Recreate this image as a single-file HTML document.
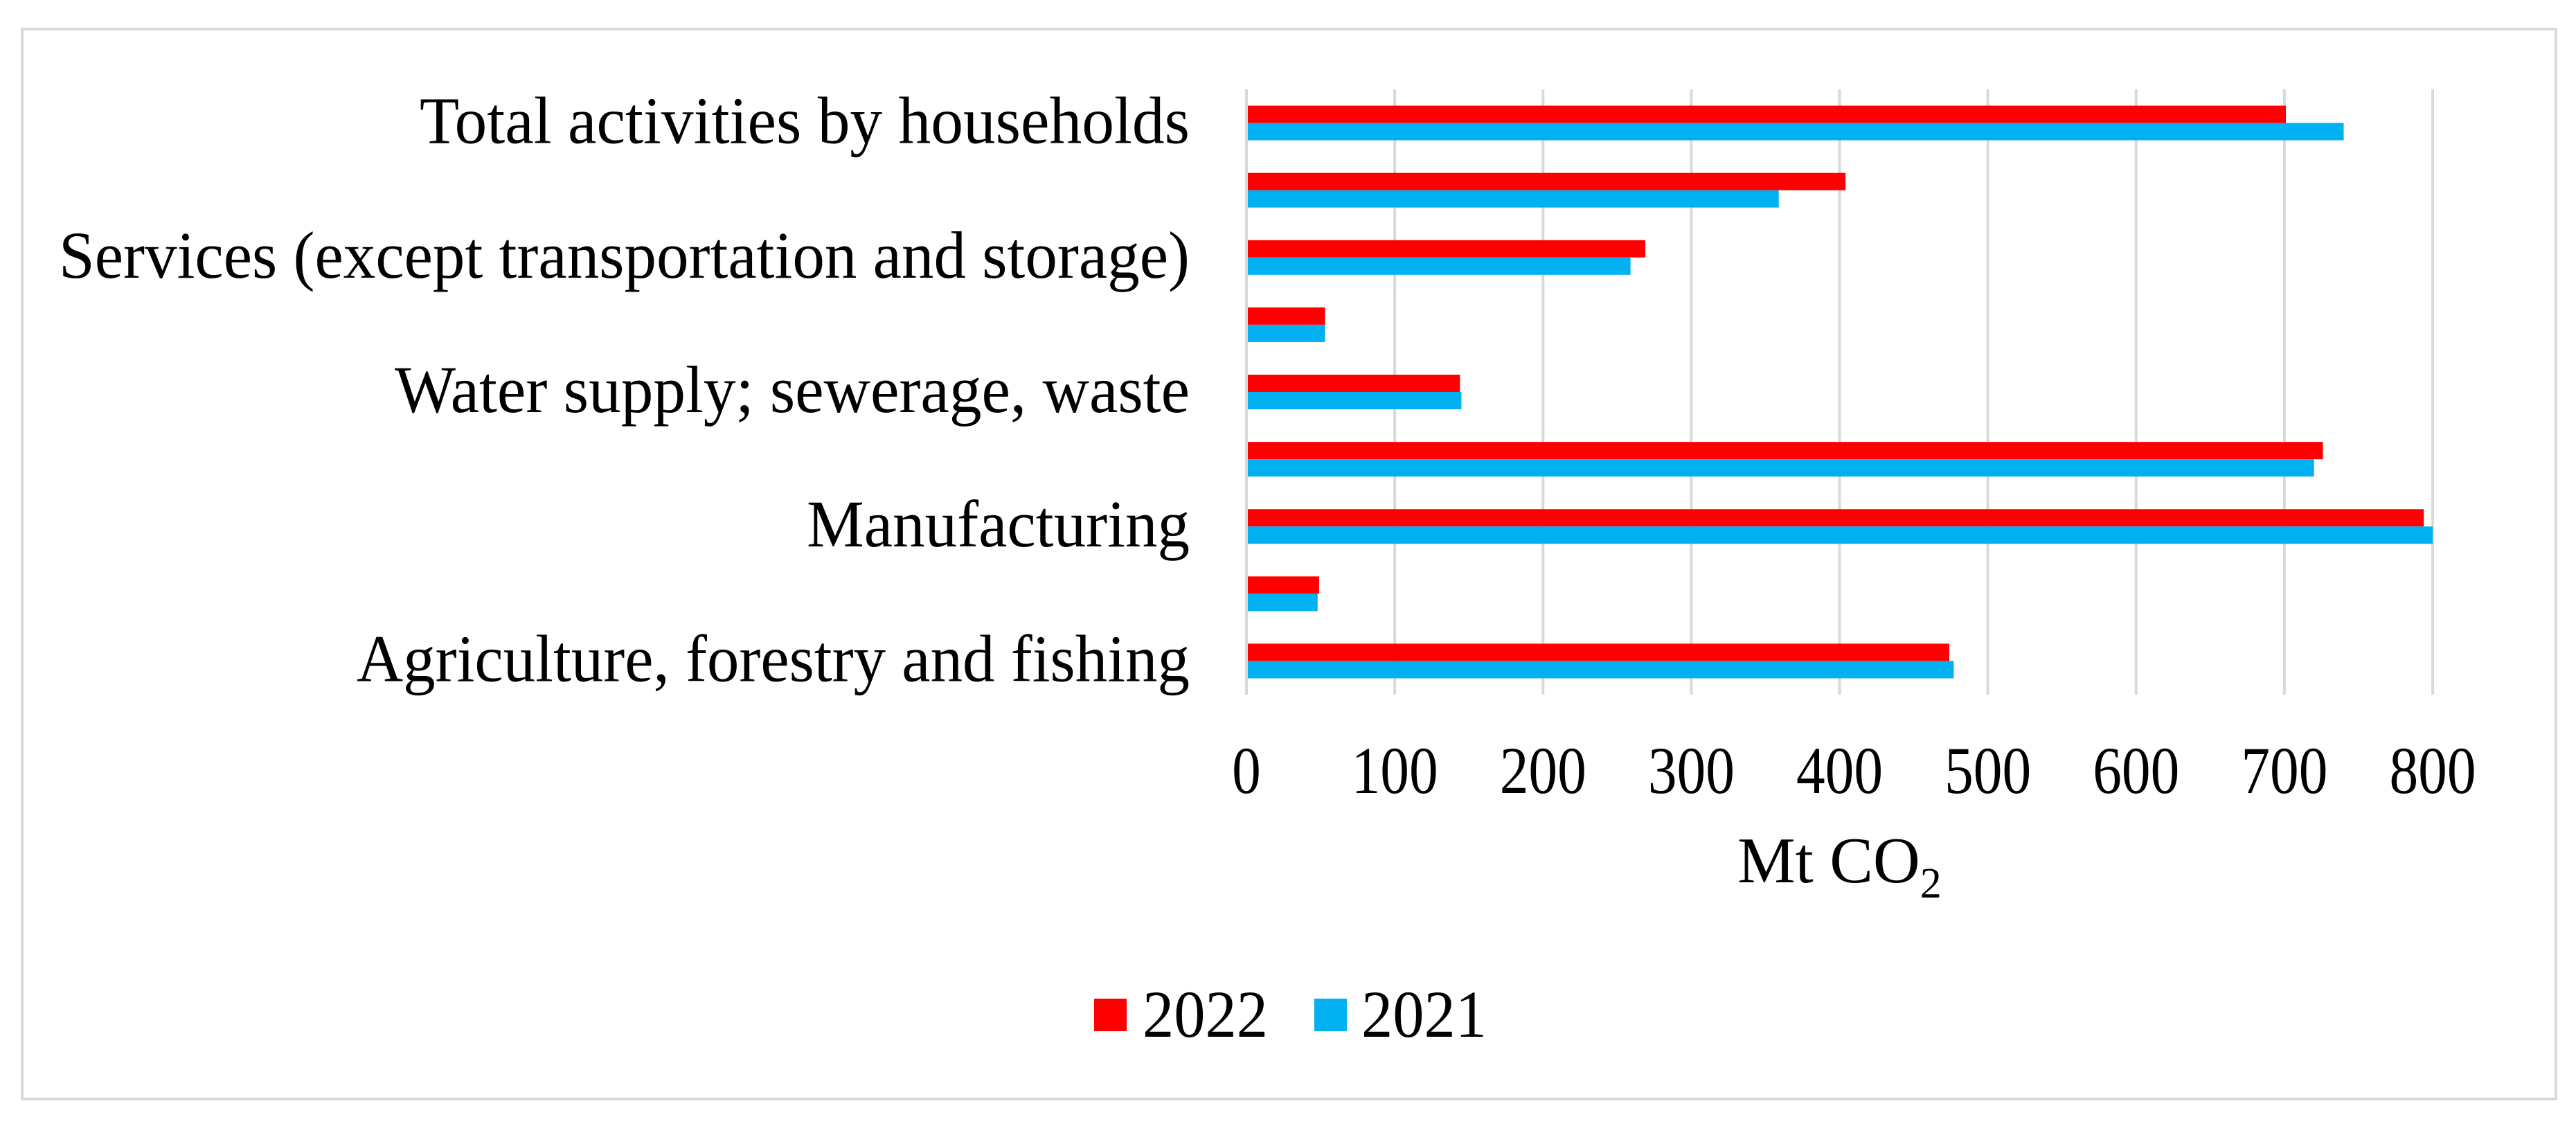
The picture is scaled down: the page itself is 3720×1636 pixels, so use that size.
<!DOCTYPE html>
<html><head><meta charset="utf-8"><style>
html,body{margin:0;padding:0;background:#fff;}
svg{display:block;font-family:"Liberation Serif","Times New Roman",serif;}
</style></head><body>
<svg id="chart" width="3720" height="1636" viewBox="0 0 3720 1636" xmlns="http://www.w3.org/2000/svg">
<rect x="32" y="42" width="3659" height="1545" fill="#fff" stroke="#d9d9d9" stroke-width="4"/>
<g id="grid"></g>
<g id="bars"></g>
<g id="ylabels"></g>
<g id="xlabels"></g>
<text x="2509" y="1274" font-size="94" fill="#000">Mt CO<tspan font-size="62" dy="22">2</tspan></text>
<g>
<g>
<rect x="1580" y="1442" width="47" height="47" fill="#ff0000"/>
<text x="1650" y="1497" font-size="96" textLength="181" lengthAdjust="spacingAndGlyphs">2022</text>
</g>
<g>
<rect x="1898" y="1442" width="47" height="47" fill="#00b0f0"/>
<text x="1966" y="1497" font-size="96" textLength="181" lengthAdjust="spacingAndGlyphs">2021</text>
</g>
</g>
</svg>
<script>
// categories from top to bottom
const categories = ["Total activities by households","Transportation and storage","Services (except transportation and storage)","Construction","Water supply; sewerage, waste","Electricity, gas, steam and air conditioning supply","Manufacturing","Mining and quarrying","Agriculture, forestry and fishing"];
const showLabel = [true,false,true,false,true,false,true,false,true];
const values2022 = [701,404,269,53,144,726,794,49,474];
const values2021 = [740,359,259,53,145,720,800,48,477];
const xTicks = [0,100,200,300,400,500,600,700,800];

const NS = "http://www.w3.org/2000/svg";
const X0 = 1800, X1 = 3513, XMAX = 800;
const Y0 = 129, Y1 = 1003;
const band = (Y1 - Y0) / categories.length;
const barH = 25;
const labelWidths = {"Total activities by households":1112,"Services (except transportation and storage)":1633,"Water supply; sewerage, waste":1148,"Manufacturing":553,"Agriculture, forestry and fishing":1203};
function xs(v){ return X0 + (v / XMAX) * (X1 - X0); }
function yc(i){ return Y0 + band * (i + 0.5); }
function mk(tag, attrs, parent){
  const e = document.createElementNS(NS, tag);
  for (const k in attrs) e.setAttribute(k, attrs[k]);
  parent.appendChild(e);
  return e;
}
const grid = document.getElementById('grid');
const bars = document.getElementById('bars');
const yl = document.getElementById('ylabels');
const xl = document.getElementById('xlabels');

xTicks.forEach(t => {
  const l = mk('line', {x1: xs(t), x2: xs(t), y1: Y0, y2: Y1, stroke: '#d9d9d9', 'stroke-width': 4}, grid);
  
  
  const s = String(t);
  const tx = mk('text', {x: xs(t), y: 1145, 'font-size': 96, 'text-anchor': 'middle', textLength: s.length * 41.7, lengthAdjust: 'spacingAndGlyphs'}, xl);
  tx.textContent = s;
  
  
});

categories.forEach((c, i) => {
  const c0 = yc(i);
  const r1 = mk('rect', {x: xs(0) + 2, y: c0 - barH, width: xs(values2022[i]) - xs(0) - 2, height: barH, fill: '#ff0000'}, bars);
  
  
  const r2 = mk('rect', {x: xs(0) + 2, y: c0, width: xs(values2021[i]) - xs(0) - 2, height: barH, fill: '#00b0f0'}, bars);
  
  
  if (showLabel[i]) {
    const attrs = {x: 1718, y: c0 + 29, 'font-size': 96, 'text-anchor': 'end'};
    if (labelWidths[c]) { attrs.textLength = labelWidths[c]; attrs.lengthAdjust = 'spacingAndGlyphs'; }
    const t = mk('text', attrs, yl);
    t.textContent = c;
    
    
  }
});
</script>
</body></html>
